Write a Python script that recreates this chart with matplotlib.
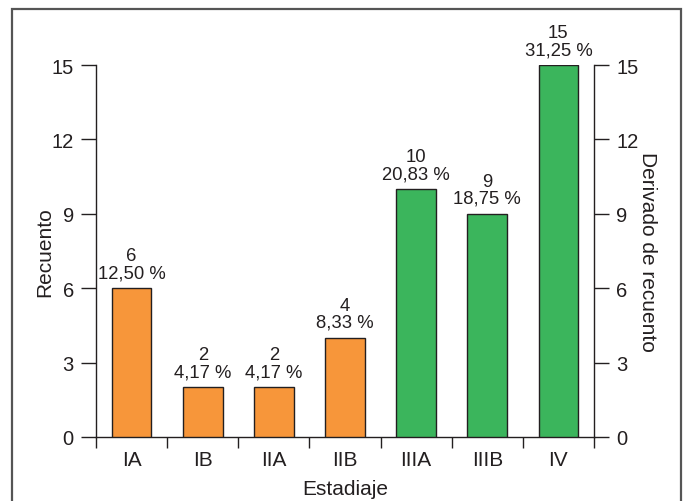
import numpy as np
import matplotlib
matplotlib.use('Agg')
from matplotlib import pyplot as plt
from matplotlib.patches import Rectangle

plt.rcParams['font.family'] = ['Liberation Sans', 'DejaVu Sans']

stages = ['IA', 'IB', 'IIA', 'IIB', 'IIIA', 'IIIB', 'IV']
counts = [6, 2, 2, 4, 10, 9, 15]
percents = ['12,50 %', '4,17 %', '4,17 %', '8,33 %', '20,83 %', '18,75 %', '31,25 %']
bar_colors = ['#f7963a'] * 4 + ['#3bb55c'] * 3
y_ticks = [0, 3, 6, 9, 12, 15]

dark = '#231f20'

fig = plt.figure(figsize=(6.86, 5.02), dpi=100)
ax = fig.add_axes([96 / 686, 64 / 502, 498 / 686, 372 / 502])

x = np.arange(len(stages))
ax.bar(x, counts, width=0.56, color=bar_colors, edgecolor=dark, linewidth=1.0, zorder=3)

# labels above bars: count and percentage
for xi, c, p in zip(x, counts, percents):
    ax.annotate(f'{c}\n{p}', (xi, c), xytext=(0, 5), textcoords='offset points',
                ha='center', va='bottom', fontsize=13.3, color=dark, linespacing=1.0,
                annotation_clip=False)

ax.set_xlim(-0.5, len(stages) - 0.5)
ax.set_ylim(0, 15)
ax.set_yticks(y_ticks)
ax.set_xticks(np.arange(len(stages) + 1) - 0.5)
ax.set_xticklabels([])
ax.set_xticks(x, minor=True)
ax.set_xticklabels(stages, minor=True)
ax.tick_params(axis='x', which='major', length=8, width=1.0, color=dark)
ax.tick_params(axis='x', which='minor', length=0, pad=9.5, labelsize=15, labelcolor=dark)
ax.tick_params(axis='y', length=11, width=1.0, color=dark, labelsize=14.5, labelcolor=dark, pad=5)

for s in ['top', 'right']:
    ax.spines[s].set_visible(False)
for s in ['left', 'bottom']:
    ax.spines[s].set_color(dark)
    ax.spines[s].set_linewidth(1.0)

ax.set_xlabel('Estadiaje', fontsize=15, color=dark, labelpad=7)
ax.set_ylabel('Recuento', fontsize=15, color=dark, labelpad=-2)

ax2 = ax.twinx()
ax2.set_ylim(0, 15)
ax2.set_yticks(y_ticks)
ax2.tick_params(axis='y', length=11, width=1.0, color=dark, labelsize=14.5, labelcolor=dark, pad=5)
for s in ['top', 'left', 'bottom']:
    ax2.spines[s].set_visible(False)
ax2.spines['right'].set_color(dark)
ax2.spines['right'].set_linewidth(1.0)
ax2.set_ylabel('Derivado de recuento', fontsize=15, color=dark, rotation=-90, labelpad=13)

# outer frame around the figure
fig.patches.append(Rectangle((12 / 686, -0.05), 669 / 686, 1.0 - 10 / 502 + 0.05,
                             transform=fig.transFigure, fill=False,
                             edgecolor='#555555', linewidth=1.6))

fig.savefig('out.png', dpi=100)
